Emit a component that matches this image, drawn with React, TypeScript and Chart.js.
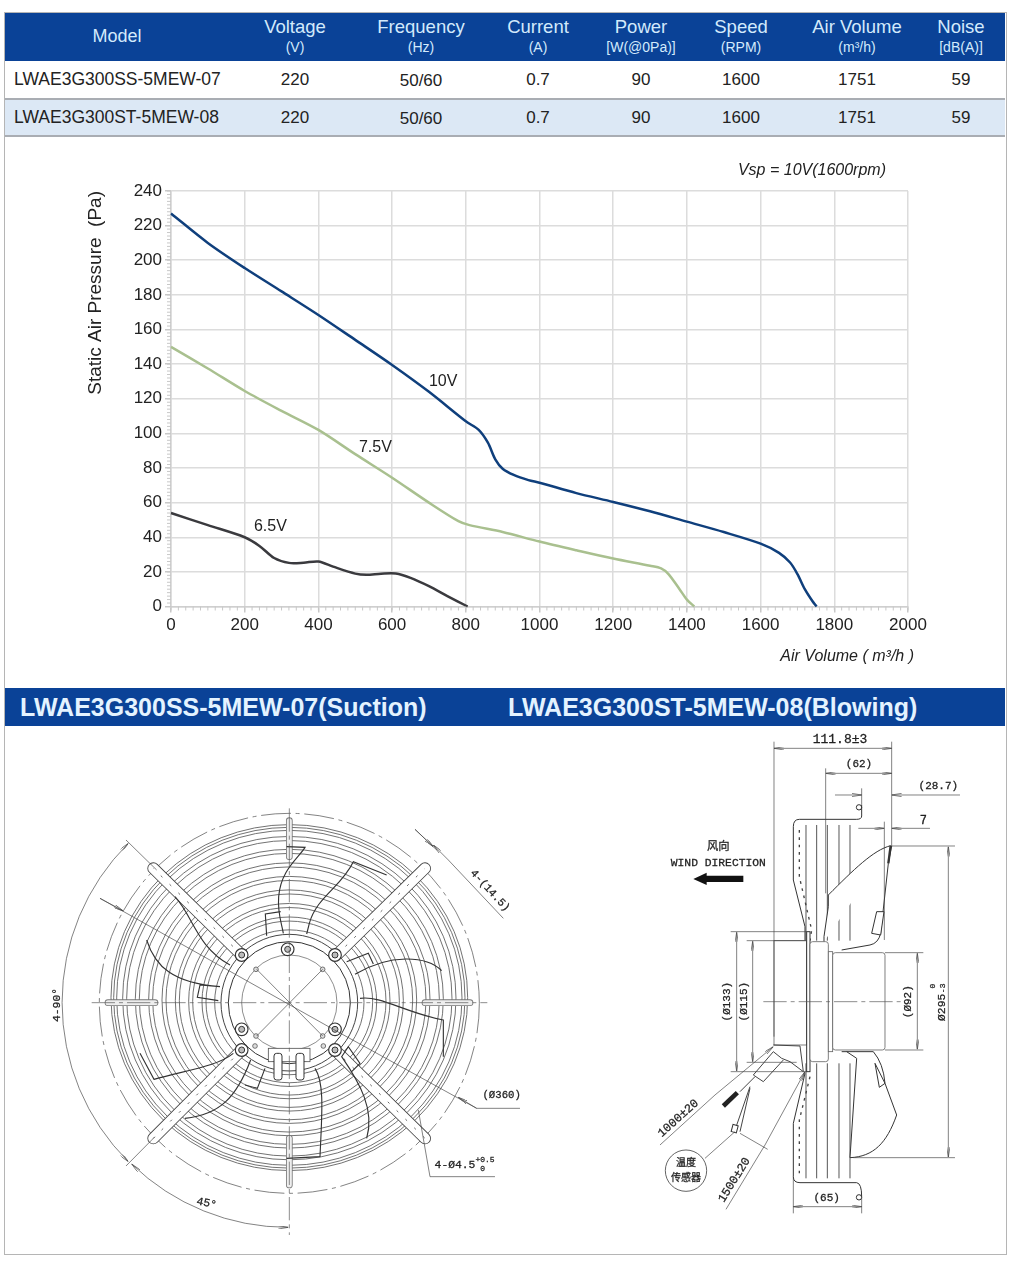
import React, { useEffect, useRef } from "react";
import { Chart, registerables } from "chart.js";
Chart.register(...registerables);

const FONT = '"Liberation Sans", Arial, sans-serif';
const MONO = '"Liberation Mono", "DejaVu Sans Mono", monospace';
const CJK = '"Noto Sans CJK SC", sans-serif';

// Table
const tableColumns = ["Voltage", "Frequency", "Current", "Power", "Speed", "Air Volume", "Noise"];
const tableUnits = ["(V)", "(Hz)", "(A)", "[W(@0Pa)]", "(RPM)", "(m³/h)", "[dB(A)]"];
const tableCenters = [295, 421, 538, 641, 741, 857, 961];
const rowModels = ["LWAE3G300SS-5MEW-07", "LWAE3G300ST-5MEW-08"];
const rowValues = ["220", "50/60", "0.7", "90", "1600", "1751", "59"];

// Chart series: [air volume, static pressure]
const xV10 = [0, 100, 200, 300, 400, 500, 600, 700, 800, 835, 860, 880, 900, 930, 970, 1000, 1100, 1200, 1300, 1400, 1500, 1600, 1650, 1680, 1700, 1720, 1740, 1752];
const yV10 = [227, 210, 195.5, 182, 168.4, 154, 139.5, 124, 107, 102, 94.6, 85, 79.6, 76, 73, 71.5, 65.5, 60.4, 55, 49, 43, 36.3, 31, 25.4, 18.7, 10, 3.3, 0];
const xV75 = [0, 100, 200, 300, 400, 500, 600, 700, 780, 810, 900, 1000, 1100, 1200, 1300, 1330, 1350, 1380, 1400, 1420];
const yV75 = [150, 137.5, 124.5, 113, 102, 88, 74.4, 60, 49.3, 47, 43, 37.5, 32.5, 27.7, 23.5, 22, 18.7, 10, 4, 0];
const xV65 = [0, 100, 200, 240, 280, 320, 360, 400, 440, 500, 530, 570, 610, 650, 700, 750, 805];
const yV65 = [54, 47, 40, 35, 28, 25.2, 25.3, 26, 23, 19, 18.3, 18.9, 19, 16.5, 11.7, 6, 0];
const curveLabels = [
  { text: "10V", x: 700, y: 130 },
  { text: "7.5V", x: 510, y: 92 },
  { text: "6.5V", x: 225, y: 46 },
];
const xMinorStep = 20;
const yMinorStep = 2;

const toPoints = (xs: number[], ys: number[]) => xs.map((x, i) => ({ x, y: ys[i] }));

// Drawing parameters (decorative engineering drawing)
const ringRadii = [535, 527, 518, 500, 488, 462, 450, 422, 410, 382, 370, 342, 330, 302, 290, 262, 250, 224];
const strutEnds = [[340, 235], [1155, 235], [340, 1045], [1155, 1045]];
const strutBases = [[605, 495], [890, 495], [605, 780], [885, 780]];
const axialStruts = [[748, 92, 748, 200], [748, 1045, 748, 1185], [204, 638, 345, 638], [1155, 638, 1290, 638]];
const boltsBig = [[605, 495], [885, 495], [605, 780], [885, 780], [605, 718], [885, 718], [743, 478]];
const boltsSmall = [[648, 538], [848, 538], [648, 738], [848, 738], [645, 768], [850, 768]];
const bladePaths = [
  "M740,170 L795,172 C775,205 722,240 716,320 C712,370 725,400 730,430",
  "M680,437 L676,372 L722,365",
  "M1040,255 L940,215 C905,290 830,320 808,400 L800,432",
  "M1205,542 C1160,497 1050,490 945,553",
  "M920,515 L985,490 L1000,522",
  "M960,625 C1020,615 1100,670 1210,690 L1210,800",
  "M980,1045 C1005,960 960,880 905,800 L925,770 L960,820 L935,845",
  "M825,835 C855,880 845,980 840,1100 L740,1105",
  "M435,985 C540,975 590,920 632,810",
  "M615,885 L652,895 L675,835",
  "M580,790 C530,830 440,840 342,868 L300,790",
  "M320,450 C345,530 400,580 540,590 L480,585 L472,622 L535,632",
  "M405,320 C460,380 470,470 570,525",
];
const guardBars = [498, 530, 562, 597, 630];

function Ln({ a, arrow }: { a: number[]; arrow?: "both" | "end" | "start" }) {
  return (
    <line x1={a[0]} y1={a[1]} x2={a[2]} y2={a[3]} stroke="#444" strokeWidth={2}
      markerEnd={arrow === "both" || arrow === "end" ? "url(#dimArrow)" : undefined}
      markerStart={arrow === "both" || arrow === "start" ? "url(#dimArrow)" : undefined} />
  );
}

function Txt({ x, y, s, rot, size = 36, font = MONO }: { x: number; y: number; s: string; rot?: number; size?: number; font?: string }) {
  return (
    <text x={x} y={y} fontFamily={font} fontSize={size} fill="#222" stroke="#222" strokeWidth={0.8} textAnchor="middle" dominantBaseline="middle"
      transform={rot ? `rotate(${rot} ${x} ${y})` : undefined}>{s}</text>
  );
}

function FrontView() {
  const cx = 748, cy = 638;
  return (
    <g transform="translate(40 790) scale(0.33333)" fill="none">
      <circle cx={cx} cy={cy + 2} r={570} stroke="#444" strokeWidth={2} strokeDasharray="90 14 12 14" />
      {ringRadii.map((r, i) => (
        <ellipse key={i} cx={cx} cy={cy - ((r - 200) / 330) * 15} rx={r} ry={r * 0.97} stroke="#5c5c5c" strokeWidth={2.6} />
      ))}
      {axialStruts.map((a, i) => (
        <g key={i}>
          <line x1={a[0]} y1={a[1]} x2={a[2]} y2={a[3]} stroke="#777" strokeWidth={20} strokeLinecap="round" />
          <line x1={a[0]} y1={a[1]} x2={a[2]} y2={a[3]} stroke="#eee" strokeWidth={15} strokeLinecap="round" />
        </g>
      ))}
      {strutEnds.map((e, i) => {
        const b = strutBases[i];
        return (
          <g key={i}>
            <line x1={b[0]} y1={b[1]} x2={e[0]} y2={e[1]} stroke="#444" strokeWidth={36} strokeLinecap="round" />
            <line x1={b[0]} y1={b[1]} x2={e[0]} y2={e[1]} stroke="#fff" strokeWidth={31} strokeLinecap="round" />
            <line x1={b[0]} y1={b[1]} x2={e[0]} y2={e[1]} stroke="#666" strokeWidth={3} strokeDasharray="7 30" />
          </g>
        );
      })}
      <circle cx={cx} cy={cy} r={205} fill="#fff" stroke="#444" strokeWidth={3} />
      <circle cx={cx} cy={cy} r={183} stroke="#333" strokeWidth={3} />
      <circle cx={cx} cy={cy} r={143} stroke="#555" strokeWidth={2} />
      <rect x={685} y={775} width={125} height={40} fill="#fff" stroke="#555" strokeWidth={2.5} />
      <rect x={702} y={790} width={24} height={80} rx={8} fill="#fff" stroke="#333" strokeWidth={3} />
      <rect x={768} y={790} width={24} height={80} rx={8} fill="#fff" stroke="#333" strokeWidth={3} />
      {bladePaths.map((d, i) => (
        <path key={i} d={d} stroke="#333" strokeWidth={3.4} />
      ))}
      {boltsBig.map((p, i) => (
        <g key={i}>
          <circle cx={p[0]} cy={p[1]} r={19} fill="#fff" stroke="#333" strokeWidth={3.5} />
          <circle cx={p[0]} cy={p[1]} r={9} fill="#bbb" stroke="#333" strokeWidth={3} />
        </g>
      ))}
      {boltsSmall.map((p, i) => (
        <circle key={i} cx={p[0]} cy={p[1]} r={7} fill="#ddd" stroke="#555" strokeWidth={2.4} />
      ))}
      <line x1={155} y1={cy} x2={1342} y2={cy} stroke="#555" strokeWidth={2} strokeDasharray="70 12 12 12" />
      <line x1={cx} y1={55} x2={cx} y2={1335} stroke="#555" strokeWidth={2} strokeDasharray="70 12 12 12" />
      <Ln a={[650, 538, 848, 738]} />
      <Ln a={[848, 538, 650, 738]} />
      <Ln a={[180, 325, 880, 718]} />
      <Ln a={[180, 325, 250, 363]} arrow="end" />
      <Ln a={[880, 718, 1310, 955]} />
      <Ln a={[1255, 922, 1310, 955]} arrow="start" />
      <Ln a={[1310, 955, 1440, 955]} />
      <path d="M265,160 A673,673 0 0 0 265,1115" stroke="#444" strokeWidth={2} markerStart="url(#dimArrow)" markerEnd="url(#dimArrow)" />
      <path d="M275,1122 A673,673 0 0 0 745,1312" stroke="#444" strokeWidth={2} markerStart="url(#dimArrow)" markerEnd="url(#dimArrow)" />
      <Ln a={[258, 150, 350, 240]} />
      <Ln a={[258, 1128, 345, 1040]} />
      <Ln a={[1125, 118, 1190, 180]} />
      <Ln a={[1125, 118, 1180, 170]} arrow="end" />
      <Ln a={[1225, 210, 1390, 385]} />
      <Ln a={[1225, 210, 1180, 165]} arrow="end" />
      <Ln a={[1135, 960, 1170, 1160]} />
      <Ln a={[1170, 1160, 1365, 1160]} />
      <Txt x={52} y={645} s="4-90°" rot={-90} size={34} />
      <Txt x={500} y={1240} s="45°" rot={12} size={34} />
      <Txt x={1350} y={302} s="4-(14.5)" rot={47} size={33} />
      <Txt x={1385} y={917} s="(Ø360)" size={32} />
      <Txt x={1245} y={1125} s="4-Ø4.5" size={34} />
      <Txt x={1335} y={1110} s="+0.5" size={24} />
      <Txt x={1328} y={1137} s="0" size={24} />
    </g>
  );
}

function SideView() {
  return (
    <g transform="translate(640 730) scale(0.33333)" fill="none">
      {guardBars.map((x, i) => (
        <g key={i}>
          <line x1={x} y1={285} x2={x} y2={632} stroke="#555" strokeWidth={3} />
          <line x1={x} y1={1000} x2={x} y2={1345} stroke="#555" strokeWidth={3} />
        </g>
      ))}
      <path d="M665,225 L665,258 Q665,268 650,268 L478,268 Q460,268 460,290 L460,450 L495,590 L495,632" stroke="#333" strokeWidth={3} />
      <path d="M478,300 L478,440 L515,600 L510,632" stroke="#444" strokeWidth={4} strokeDasharray="8 14" />
      <path d="M495,1030 L460,1180 L460,1340 Q460,1358 480,1358 L650,1358 Q665,1360 665,1400" stroke="#333" strokeWidth={3} />
      <path d="M510,1040 L478,1170 L478,1340" stroke="#444" strokeWidth={4} strokeDasharray="8 14" />
      <circle cx={657} cy={232} r={8} stroke="#333" strokeWidth={3} />
      <circle cx={657} cy={1402} r={8} stroke="#333" strokeWidth={3} />
      <path d="M752,347 C700,360 640,420 565,495 L565,530 L552,620 L552,635" fill="#fff" stroke="#333" strokeWidth={3} />
      <path d="M755,348 L745,400 L722,610 Q715,640 690,645 L605,660" stroke="#333" strokeWidth={3} />
      <path d="M752,347 L745,400" stroke="#333" strokeWidth={7} />
      <path d="M710,545 L732,545 L722,615 L695,610 Z" stroke="#333" strokeWidth={3} fill="#fff" />
      <path d="M605,965 L700,965 Q730,1000 735,1060 L770,1155 C740,1240 700,1280 630,1283 L650,985 L620,965" fill="#fff" stroke="#333" strokeWidth={3} />
      <path d="M705,1000 L735,1060 L718,1072 Z" stroke="#333" strokeWidth={3} />
      <rect x={402} y={632} width={98} height={313} fill="#fff" stroke="#666" strokeWidth={2.5} />
      <rect x={500} y={605} width={10} height={420} fill="#fff" stroke="#333" strokeWidth={3} />
      <rect x={510} y={635} width={55} height={360} rx={8} fill="#fff" stroke="#666" strokeWidth={2.5} />
      <rect x={565} y={665} width={13} height={300} fill="#fff" stroke="#666" strokeWidth={2.5} />
      <rect x={578} y={668} width={157} height={292} rx={8} fill="#fff" stroke="#666" strokeWidth={2.5} />
      <path d="M400,945 L480,948 L490,1025 L450,995 L425,985 L400,965 L340,1035 L370,1055 L430,990" stroke="#444" strokeWidth={3} />
      <path d="M345,1040 L300,1085 M330,1070 L285,1200 M330,1075 L300,1205" stroke="#444" strokeWidth={3} />
      <line x1={250} y1={1128} x2={292} y2={1088} stroke="#222" strokeWidth={14} />
      <rect x={276} y={1185} width={16} height={22} fill="#fff" stroke="#333" strokeWidth={3} transform="rotate(15 284 1196)" />
      <line x1={370} y1={815} x2={790} y2={815} stroke="#555" strokeWidth={2} strokeDasharray="70 12 12 12" />

      <Ln a={[402, 35, 402, 920]} />
      <Ln a={[755, 35, 755, 350]} />
      <Ln a={[402, 55, 755, 55]} arrow="both" />
      <Ln a={[557, 115, 557, 490]} />
      <Ln a={[557, 130, 755, 130]} arrow="both" />
      <Ln a={[665, 175, 665, 225]} />
      <Ln a={[585, 195, 665, 195]} arrow="end" />
      <Ln a={[755, 195, 960, 195]} arrow="start" />
      <Ln a={[733, 275, 733, 630]} />
      <Ln a={[655, 295, 733, 295]} arrow="end" />
      <Ln a={[755, 295, 870, 295]} arrow="start" />
      <Ln a={[755, 348, 945, 348]} />
      <Ln a={[640, 1283, 945, 1283]} />
      <Ln a={[925, 350, 925, 1281]} arrow="both" />
      <Ln a={[272, 605, 500, 605]} />
      <Ln a={[272, 1025, 500, 1025]} />
      <Ln a={[290, 607, 290, 1023]} arrow="both" />
      <Ln a={[320, 632, 500, 632]} />
      <Ln a={[320, 997, 470, 997]} />
      <Ln a={[338, 634, 338, 995]} arrow="both" />
      <Ln a={[735, 668, 850, 668]} />
      <Ln a={[735, 960, 850, 960]} />
      <Ln a={[832, 670, 832, 958]} arrow="both" />
      <Ln a={[460, 1340, 460, 1450]} />
      <Ln a={[665, 1400, 665, 1450]} />
      <Ln a={[460, 1430, 665, 1430]} arrow="both" />
      <Ln a={[60, 1245, 225, 1095]} />
      <Ln a={[225, 1095, 400, 950]} arrow="end" />
      <Ln a={[258, 1438, 375, 1245]} />
      <Ln a={[375, 1245, 495, 1025]} arrow="end" />
      <Ln a={[300, 1210, 383, 1258]} />
      <Ln a={[195, 1285, 285, 1205]} />
      <circle cx={138} cy={1322} r={62} fill="#fff" stroke="#444" strokeWidth={2.5} />
      <polygon points="310,437 200,437 200,428 160,447 200,465 200,456 310,456" fill="#111" />

      <Txt x={600} y={30} s="111.8±3" size={39} />
      <Txt x={657} y={102} s="(62)" size={33} />
      <Txt x={895} y={168} s="(28.7)" size={33} />
      <Txt x={850} y={272} s="7" />
      <Txt x={560} y={1403} s="(65)" size={33} />
      <Txt x={235} y={352} s="风向" font={CJK} size={34} />
      <Txt x={235} y={398} s="WIND DIRECTION" size={34} />
      <Txt x={262} y={815} s="(Ø133)" rot={-90} size={33} />
      <Txt x={312} y={815} s="(Ø115)" rot={-90} size={33} />
      <Txt x={803} y={815} s="(Ø92)" rot={-90} size={33} />
      <Txt x={905} y={832} s="Ø295" rot={-90} size={34} />
      <Txt x={880} y={768} s="0" rot={-90} size={24} />
      <Txt x={908} y={775} s="-3" rot={-90} size={24} />
      <Txt x={115} y={1165} s="1000±20" rot={-42} />
      <Txt x={283} y={1350} s="1500±20" rot={-58} />
      <Txt x={138} y={1300} s="温度" font={CJK} size={30} />
      <Txt x={138} y={1345} s="传感器" font={CJK} size={30} />
    </g>
  );
}

const annotationPlugin = {
  id: "annotations",
  afterDraw(chart: any) {
    const { ctx, scales, chartArea } = chart;
    const x = scales.x, y = scales.y;
    ctx.save();
    ctx.strokeStyle = "#c8c8c8";
    ctx.lineWidth = 1;
    ctx.beginPath();
    for (let v = 0; v <= 2000; v += xMinorStep) {
      const px = x.getPixelForValue(v);
      ctx.moveTo(px, chartArea.bottom);
      ctx.lineTo(px, chartArea.bottom + 4);
    }
    for (let v = 0; v <= 240; v += yMinorStep) {
      const py = y.getPixelForValue(v);
      ctx.moveTo(chartArea.left, py);
      ctx.lineTo(chartArea.left - 4, py);
    }
    ctx.stroke();
    ctx.fillStyle = "#222";
    ctx.font = `16px ${FONT}`;
    ctx.textBaseline = "middle";
    ctx.textAlign = "left";
    for (const l of curveLabels) {
      ctx.fillText(l.text, x.getPixelForValue(l.x), y.getPixelForValue(l.y));
    }
    ctx.font = `italic 16px ${FONT}`;
    ctx.textAlign = "right";
    ctx.fillText("Air Volume ( m³/h )", chartArea.right + 6, chartArea.bottom + 50);
    ctx.fillText("Vsp = 10V(1600rpm)", chartArea.right - 22, chartArea.top - 20);
    ctx.restore();
  },
};

function FanChart() {
  const ref = useRef<HTMLCanvasElement | null>(null);
  useEffect(() => {
    if (!ref.current) return;
    const curve = (label: string, xs: number[], ys: number[], color: string) => ({
      label,
      data: toPoints(xs, ys),
      borderColor: color,
      borderWidth: 2.5,
      pointRadius: 0,
      showLine: true,
      tension: 0.3,
    });
    const plainLabel = (v: any) => String(v);
    const chart = new Chart(ref.current, {
      type: "scatter",
      data: {
        datasets: [
          curve("10V", xV10, yV10, "#0f3f7c"),
          curve("7.5V", xV75, yV75, "#a9c08f"),
          curve("6.5V", xV65, yV65, "#3a3a3e"),
        ],
      },
      plugins: [annotationPlugin],
      options: {
        animation: false,
        responsive: false,
        clip: false,
        layout: { padding: { left: 0, right: 101, top: 40, bottom: 0 } },
        plugins: { legend: { display: false }, tooltip: { enabled: false } },
        scales: {
          x: {
            type: "linear",
            min: 0,
            max: 2000,
            afterFit: (s: any) => { s.height = 74.5; },
            ticks: { stepSize: 200, color: "#222", font: { family: FONT, size: 17 }, maxRotation: 0, padding: 3, callback: plainLabel },
            grid: { color: "#dcdcdc", lineWidth: 1.5, tickLength: 6, tickColor: "#c8c8c8" },
            border: { color: "#cfcfcf", width: 1.5 },
          },
          y: {
            min: 0,
            max: 240,
            afterFit: (s: any) => { s.width = 171; },
            ticks: { stepSize: 20, color: "#222", font: { family: FONT, size: 17 }, padding: 3, callback: plainLabel },
            grid: { color: "#dcdcdc", lineWidth: 1.5, tickLength: 6, tickColor: "#c8c8c8" },
            border: { color: "#cfcfcf", width: 1.5 },
            title: {
              display: true,
              text: "Static Air Pressure  (Pa)",
              align: "end",
              color: "#222",
              font: { family: FONT, size: 19 },
              padding: { top: 84, bottom: 0 },
            },
          },
        },
      },
    } as any);
    return () => chart.destroy();
  }, []);
  return <canvas ref={ref} width={1009} height={530} style={{ position: "absolute", left: 0, top: 151, width: 1009, height: 530 }} />;
}

const abs = (o: React.CSSProperties): React.CSSProperties => ({ position: "absolute", whiteSpace: "nowrap", ...o });
const centered = (x: number, y: number, size: number, color: string, extra?: React.CSSProperties): React.CSSProperties =>
  abs({ left: x, top: y, fontSize: size, color, transform: "translate(-50%,-50%)", lineHeight: 1, ...extra });

export default function App() {
  const HEAD = "#0a4297";
  const LIGHT = "#d3eafc";
  return (
    <div style={{ position: "absolute", left: 0, top: 0, width: 1010, height: 1275, background: "#fff", fontFamily: FONT, overflow: "hidden" }}>
      <div style={abs({ left: 4, top: 12, width: 1001, height: 1241, border: "1px solid #b5b5b5" })} />
      <div style={abs({ left: 5, top: 13, width: 1000, height: 48, background: HEAD })} />
      <span style={centered(117, 36, 18, LIGHT)}>Model</span>
      {tableColumns.map((c, i) => (
        <React.Fragment key={c}>
          <span style={centered(tableCenters[i], 27, 18.5, LIGHT)}>{c}</span>
          <span style={centered(tableCenters[i], 47, 14, LIGHT)}>{tableUnits[i]}</span>
        </React.Fragment>
      ))}
      <div style={abs({ left: 5, top: 98, width: 1000, height: 2, background: "#a9adb3" })} />
      <div style={abs({ left: 5, top: 100, width: 1000, height: 35, background: "#dce8f5" })} />
      <div style={abs({ left: 5, top: 135, width: 1000, height: 2, background: "#a9adb3" })} />
      {rowModels.map((m, r) => {
        const y = r === 0 ? 80 : 118;
        return (
          <React.Fragment key={m}>
            <span style={abs({ left: 14, top: y, fontSize: 17.5, color: "#222", transform: "translateY(-50%)", lineHeight: 1 })}>{m}</span>
            {rowValues.map((v, i) => (
              <span key={i} style={centered(tableCenters[i], y - 1 + (i === 1 ? 1 : 0), 17, "#222")}>{v}</span>
            ))}
          </React.Fragment>
        );
      })}
      <FanChart />
      <div style={abs({ left: 5, top: 688, width: 1000, height: 38, background: HEAD })} />
      <span style={abs({ left: 20, top: 707, fontSize: 25, fontWeight: 700, color: "#e4f3ff", transform: "translateY(-50%)", lineHeight: 1 })}>LWAE3G300SS-5MEW-07(Suction)</span>
      <span style={abs({ left: 508, top: 707, fontSize: 25, fontWeight: 700, color: "#e4f3ff", transform: "translateY(-50%)", lineHeight: 1 })}>LWAE3G300ST-5MEW-08(Blowing)</span>
      <svg width={1010} height={1275} style={{ position: "absolute", left: 0, top: 0, pointerEvents: "none" }}>
        <defs>
          <marker id="dimArrow" viewBox="0 0 30 10" refX={30} refY={5} markerWidth={30} markerHeight={10} markerUnits="userSpaceOnUse" orient="auto-start-reverse">
            <path d="M0,0 L30,5 L0,10" fill="none" stroke="#444" strokeWidth={2} />
          </marker>
        </defs>
        <FrontView />
        <SideView />
      </svg>
    </div>
  );
}
